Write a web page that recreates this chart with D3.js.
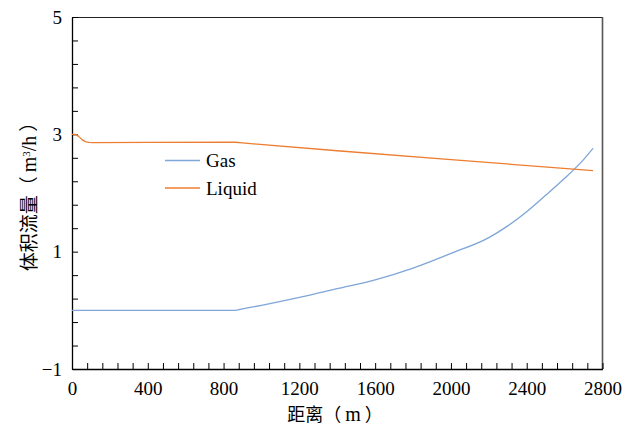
<!DOCTYPE html>
<html>
<head>
<meta charset="utf-8">
<script src="https://cdn.jsdelivr.net/npm/d3@7"></script>
<style>
  html, body { margin: 0; padding: 0; background: #fff; }
  svg { display: block; }
</style>
</head>
<body>
<script>
// ---- data ----
const gasDistance = [0, 200, 400, 600, 860, 900, 1000, 1200, 1400, 1600, 1800, 2000, 2200, 2300, 2400, 2500, 2600, 2700, 2750];
const gasValues   = [0, 0, 0, 0, 0, 0.025, 0.085, 0.22, 0.37, 0.52, 0.72, 0.97, 1.24, 1.44, 1.68, 1.96, 2.25, 2.57, 2.76];
const liquidDistance = [0, 15, 25, 35, 45, 55, 65, 75, 90, 110, 400, 860, 900, 1400, 2000, 2750];
const liquidValues   = [3.0, 3.0, 2.99, 2.965, 2.935, 2.905, 2.885, 2.872, 2.864, 2.86, 2.862, 2.865, 2.853, 2.72, 2.57, 2.38];
const seriesNames = ["Gas", "Liquid"];
const seriesColors = ["#7ea6d8", "#ed7d31"];
const xTickLabels = [0, 400, 800, 1200, 1600, 2000, 2400, 2800];
const yTickLabels = [-1, 1, 3, 5];
const xTitleParts = [["距离（", "cjk"], ["\u2009m\u2009", "serif"], ["）", "cjk"]];
const yTitleParts = [["体积流量（", "cjk"], ["\u2009m", "serif"], ["3", "sup"], ["/h\u2009", "serif"], ["）", "cjk"]];

// ---- layout ----
const W = 634, H = 426;
const L = 72, R = 602.5, T = 17, B = 369;
const SERIF = "'Liberation Serif', 'Times New Roman', serif";
const CJK = "'Noto Sans CJK SC', sans-serif";

const svg = d3.select("body").append("svg").attr("width", W).attr("height", H);

const x = d3.scaleLinear().domain([0, 2800]).range([L, R]);
const y = d3.scaleLinear().domain([-1, 5]).range([B, T]);

const xTicks = d3.range(0, 2801, 80);
const yTicks = d3.range(0, 16).map(i => +(-1 + i * 0.4).toFixed(1));

// frame top & right
svg.append("line").attr("x1", L).attr("x2", R).attr("y1", T + 0.5).attr("y2", T + 0.5)
  .attr("stroke", "#222").attr("stroke-width", 1.2);
svg.append("line").attr("x1", R).attr("x2", R).attr("y1", T).attr("y2", B)
  .attr("stroke", "#555").attr("stroke-width", 1.6);

// x axis
const xAxis = d3.axisBottom(x).tickValues(xTicks).tickSizeInner(-6).tickSizeOuter(0).tickPadding(13)
  .tickFormat(d => xTickLabels.includes(d) ? String(d) : "");
const gx = svg.append("g").attr("transform", `translate(0,${B})`).call(xAxis)
  .attr("font-family", SERIF).attr("font-size", 19);
gx.selectAll(".tick text").attr("font-family", SERIF).attr("font-size", 19).attr("fill", "#000");
gx.select(".domain").attr("stroke", "#000").attr("stroke-width", 1.3);
gx.selectAll(".tick line").attr("stroke", "#000").attr("stroke-width", 1);

// y axis
const yAxis = d3.axisLeft(y).tickValues(yTicks).tickSizeInner(-6).tickSizeOuter(0).tickPadding(10)
  .tickFormat(d => {
    const m = yTickLabels.find(v => Math.abs(v - d) < 1e-6);
    return m === undefined ? "" : (m < 0 ? "\u2212" + Math.abs(m) : String(m));
  });
const gy = svg.append("g").attr("transform", `translate(${L},0)`).call(yAxis)
  .attr("font-family", SERIF).attr("font-size", 19);
gy.selectAll(".tick text").attr("font-family", SERIF).attr("font-size", 19).attr("fill", "#000");
gy.select(".domain").attr("stroke", "#000").attr("stroke-width", 1.3);
gy.selectAll(".tick line").attr("stroke", "#000").attr("stroke-width", 1);

// lines
const gasLine = d3.line().x(d => x(d[0])).y(d => y(d[1])).curve(d3.curveMonotoneX);
const liqLine = d3.line().x(d => x(d[0])).y(d => y(d[1])).curve(d3.curveLinear);
const gasData = gasDistance.map((d, i) => [d, gasValues[i]]);
const liqData = liquidDistance.map((d, i) => [d, liquidValues[i]]);
svg.append("path").datum(gasData).attr("d", gasLine).attr("fill", "none")
  .attr("stroke", seriesColors[0]).attr("stroke-width", 1.3);
svg.append("path").datum(liqData).attr("d", liqLine).attr("fill", "none")
  .attr("stroke", seriesColors[1]).attr("stroke-width", 1.3).attr("stroke-linejoin", "round");

// legend
const legY = [160.5, 188];
seriesNames.forEach((n, i) => {
  svg.append("line").attr("x1", 165).attr("x2", 200).attr("y1", legY[i]).attr("y2", legY[i])
    .attr("stroke", seriesColors[i]).attr("stroke-width", 1.3);
  svg.append("text").attr("x", 206).attr("y", legY[i] + 6.5).text(n)
    .attr("font-family", SERIF).attr("font-size", 19).attr("fill", "#000");
});

// axis titles
function addParts(t, parts) {
  parts.forEach(([s, kind]) => {
    const sp = t.append("tspan").text(s);
    if (kind === "cjk") sp.attr("font-family", CJK);
    else if (kind === "sup") sp.attr("font-family", SERIF).attr("font-size", 11).attr("baseline-shift", "super");
    else sp.attr("font-family", SERIF).attr("font-size", 20);
  });
}
const xt = svg.append("text").attr("x", 335).attr("y", 421).attr("text-anchor", "middle")
  .attr("font-size", 18).attr("fill", "#000");
addParts(xt, xTitleParts);
const yt = svg.append("text").attr("transform", "translate(36,192) rotate(-90)").attr("text-anchor", "middle")
  .attr("font-size", 19).attr("fill", "#000");
addParts(yt, yTitleParts);
</script>
</body>
</html>
